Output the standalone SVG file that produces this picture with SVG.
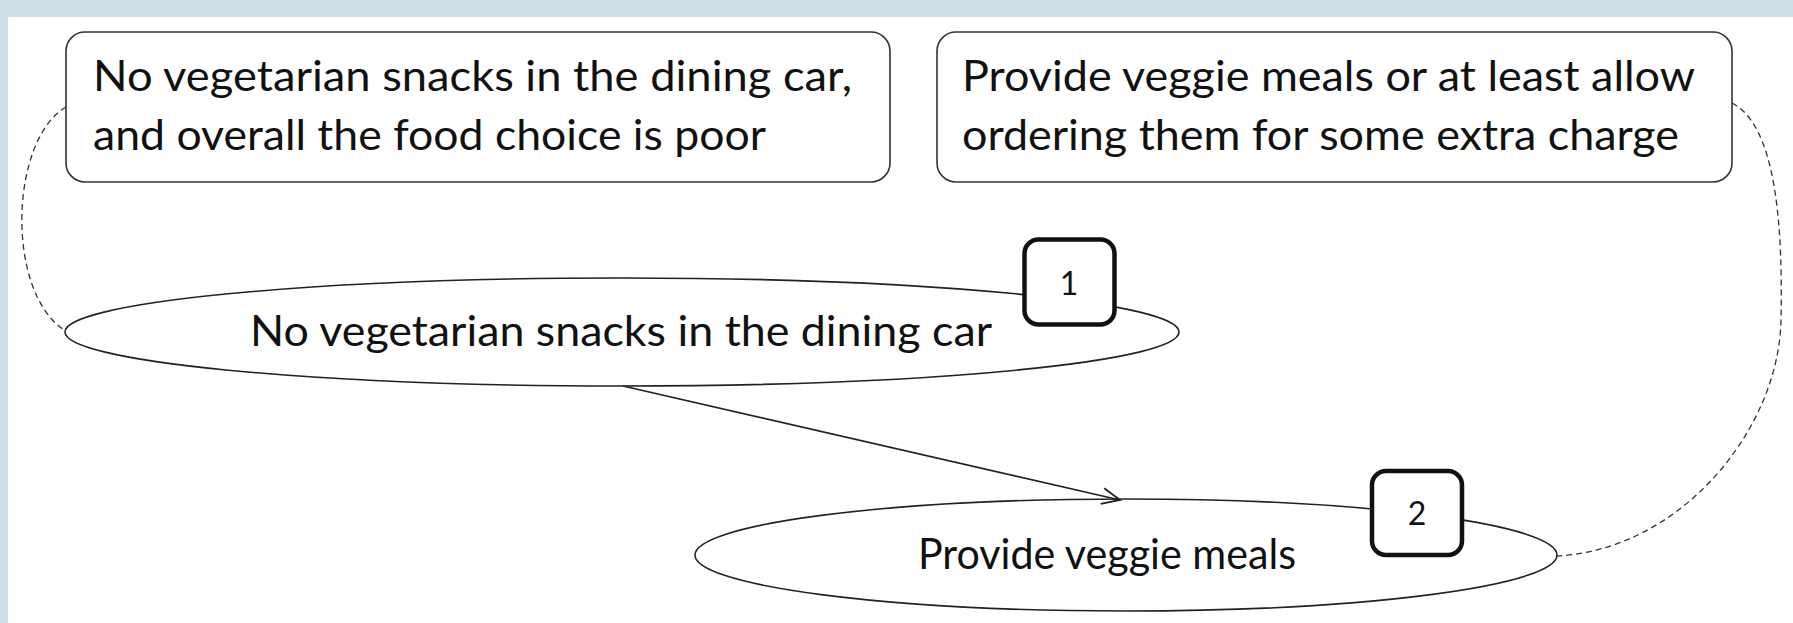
<svg xmlns="http://www.w3.org/2000/svg" width="1793" height="623" viewBox="0 0 1793 623">
<style>
.box{fill:#fff;stroke:#333;stroke-width:1.6}
.ell{fill:#fff;stroke:#222;stroke-width:1.6}
.badge{fill:#fff;stroke:#111;stroke-width:4.5}
.t{font-family:Lato,"Open Sans","Liberation Sans",sans-serif;font-size:42px;fill:#111}
.n{font-family:Lato,"Open Sans","Liberation Sans",sans-serif;font-size:32px;fill:#111;text-anchor:middle}
.dash{fill:none;stroke:#333;stroke-width:1.3;stroke-dasharray:6 4}
.arr{fill:none;stroke:#222;stroke-width:1.6}
</style>
<defs>
<marker id="open" markerUnits="userSpaceOnUse" markerWidth="24" markerHeight="20" refX="19" refY="9" orient="auto">
<path d="M1,1 L19,9 L1,17" fill="none" stroke="#222" stroke-width="1.8"/>
</marker>
</defs>
<rect x="0" y="0" width="1793" height="623" fill="#cee0e8"/>
<rect x="8" y="17" width="1785" height="606" fill="#fff"/>
<g id="box1">
<rect class="box" x="66" y="32" width="824" height="150" rx="19"/>
<text class="t" x="93" y="91" textLength="759" lengthAdjust="spacingAndGlyphs">No vegetarian snacks in the dining car,</text>
<text class="t" x="93" y="150" textLength="673" lengthAdjust="spacingAndGlyphs">and overall the food choice is poor</text>
</g>
<g id="box2">
<rect class="box" x="937" y="32" width="795" height="150" rx="19"/>
<text class="t" x="962" y="91" textLength="733" lengthAdjust="spacingAndGlyphs">Provide veggie meals or at least allow</text>
<text class="t" x="962" y="150" textLength="717" lengthAdjust="spacingAndGlyphs">ordering them for some extra charge</text>
</g>
<g id="ellipse1">
<ellipse class="ell" cx="622" cy="332" rx="557" ry="54"/>
<text class="t" x="250" y="346" textLength="742" lengthAdjust="spacingAndGlyphs">No vegetarian snacks in the dining car</text>
</g>
<g id="badge1">
<rect class="badge" x="1024.5" y="239.5" width="90" height="85" rx="14"/>
<text class="n" x="1069" y="295">1</text>
</g>
<g id="ellipse2">
<ellipse class="ell" cx="1126" cy="555" rx="431" ry="56"/>
<text class="t" x="918" y="569" textLength="378" lengthAdjust="spacingAndGlyphs">Provide veggie meals</text>
</g>
<g id="badge2">
<rect class="badge" x="1372" y="471" width="90" height="84" rx="14"/>
<text class="n" x="1417" y="525">2</text>
</g>
<g id="connectors">
<path class="dash" d="M66,107 C10,140 5,290 64,330"/>
<path class="dash" d="M1732,103 C1775,125 1783,220 1781,320 C1779,430 1680,550 1557,556"/>
<path class="arr" d="M623,386 L1120,500" marker-end="url(#open)"/>
</g>
</svg>
